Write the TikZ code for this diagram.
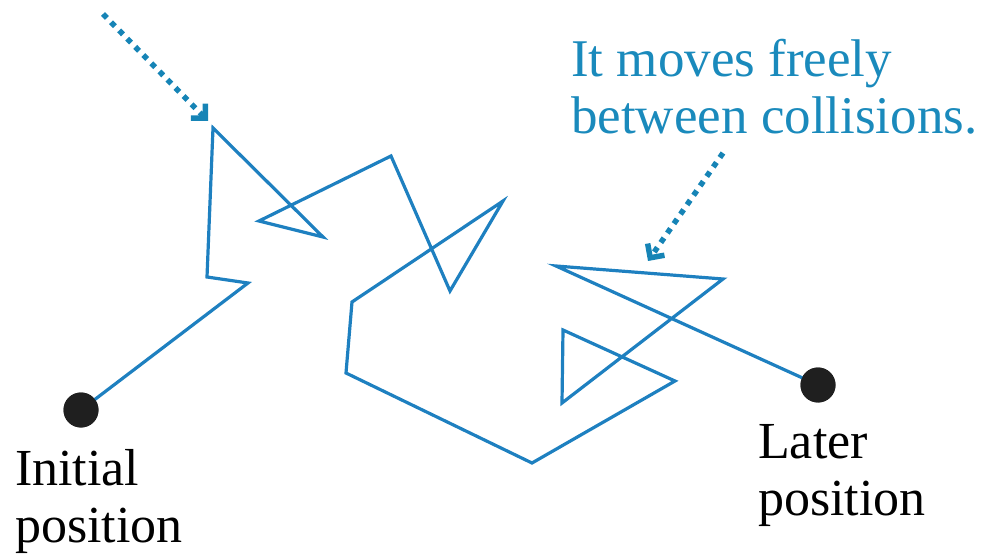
\documentclass[tikz,border=0pt]{standalone}
\usepackage{fontspec}
\setmainfont{Liberation Serif}
\usetikzlibrary{arrows.meta}
\definecolor{pathblue}{RGB}{30,128,192}
\definecolor{noteblue}{RGB}{26,138,188}
\definecolor{dotblue}{RGB}{22,132,182}
\begin{document}
\begin{tikzpicture}[x=1pt,y=-1pt,
  walk/.style={pathblue, line width=3.2pt, line join=miter},
  endpoint/.style={circle, fill=black!88, inner sep=0pt, minimum size=35pt},
  note/.style={noteblue, font=\fontsize{53}{57}\selectfont, align=left, inner sep=0pt, anchor=north west},
  poslabel/.style={black, font=\fontsize{52}{57}\selectfont, align=left, inner sep=0pt, anchor=north west},
  pointer/.style={dotblue, line width=5.5pt, dash pattern=on 5.5pt off 6pt, -{Straight Barb[angle=90:9pt 1, line width=5.5pt]}}
]
\useasboundingbox (0,0) rectangle (986,556);

% endpoints
\node[endpoint] (start) at (81,410) {};
\node[endpoint] (finish) at (818,385) {};

% walk vertices
\coordinate (p1) at (248,283);
\coordinate (p2) at (207,277);
\coordinate (p3) at (213,128);
\coordinate (p4) at (323,237);
\coordinate (p5) at (259,221);
\coordinate (p6) at (391,156);
\coordinate (p7) at (450,291);
\coordinate (p8) at (503,201);
\coordinate (p9) at (352,302);
\coordinate (p10) at (346,373);
\coordinate (p11) at (532,463);
\coordinate (p12) at (675,381);
\coordinate (p13) at (563,330);
\coordinate (p14) at (562,403);
\coordinate (p15) at (723,279);
\coordinate (p16) at (556,266);

\draw[walk] (start.center) -- (p1) -- (p2) -- (p3) -- (p4) -- (p5) -- (p6) -- (p7) -- (p8) -- (p9) -- (p10) -- (p11) -- (p12) -- (p13) -- (p14) -- (p15) -- (p16) -- (finish.center);
\node[endpoint] at (start) {};
\node[endpoint] at (finish) {};

% labels
\node[poslabel] (initlab) at (15,449) {Initial\\position};
\node[poslabel] (laterlab) at (758,424) {Later\\position};
\node[note] (freenote) at (571,39) {It moves freely\\between collisions.};

% pointers
\coordinate (a1s) at (103,14);
\coordinate (a1e) at (208,121);
\coordinate (a2s) at (723,153);
\coordinate (a2e) at (648,261);
\draw[pointer] (a1s) -- (a1e);
\draw[pointer] (a2s) -- (a2e);
\end{tikzpicture}
\end{document}
